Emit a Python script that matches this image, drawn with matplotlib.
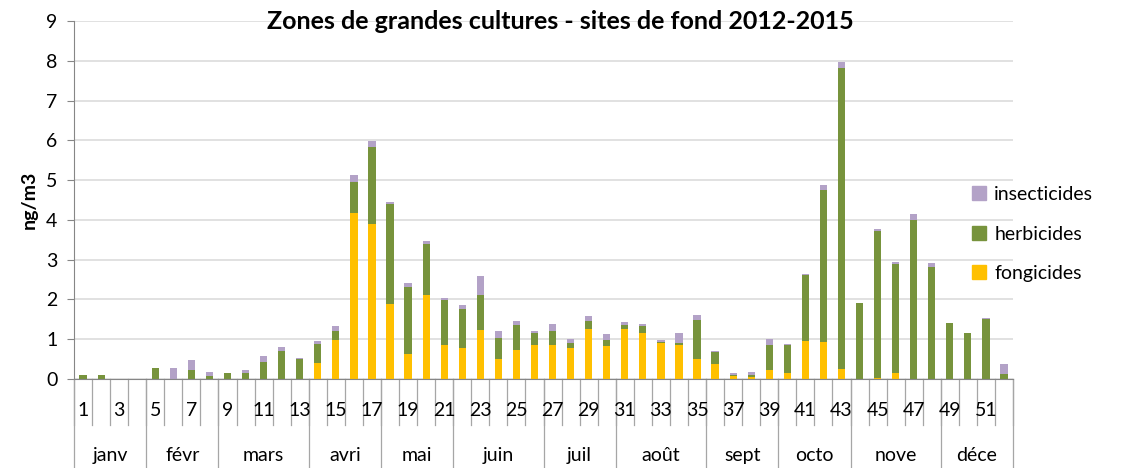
import numpy as np
import matplotlib
matplotlib.use('Agg')
import matplotlib.pyplot as plt
from matplotlib.patches import Patch

plt.rcParams['font.family'] = ['Lato', 'DejaVu Sans']

semaines = list(range(1, 53))

# valeurs (ng/m3), par semaine
fongicides = [0, 0, 0, 0, 0, 0, 0, 0, 0, 0, 0, 0, 0,
              0.40, 0.97, 4.17, 3.89, 1.88, 0.63, 2.11, 0.85, 0.77, 1.23,
              0.49, 0.72, 0.86, 0.86, 0.78, 1.25, 0.83, 1.25, 1.16, 0.89,
              0.86, 0.49, 0.38, 0.07, 0.04, 0.23, 0.14, 0.96, 0.93, 0.25,
              0, 0.03, 0.14, 0, 0, 0, 0, 0, 0]
herbicides = [0.09, 0.09, 0, 0, 0.26, 0, 0.21, 0.07, 0.15, 0.15, 0.43, 0.71, 0.49,
              0.48, 0.23, 0.79, 1.95, 2.52, 1.67, 1.27, 1.12, 0.99, 0.87,
              0.53, 0.64, 0.28, 0.34, 0.13, 0.20, 0.14, 0.11, 0.17, 0.04,
              0.05, 0.98, 0.28, 0.02, 0.06, 0.62, 0.72, 1.64, 3.83, 7.58,
              1.90, 3.69, 2.76, 4.00, 2.81, 1.41, 1.16, 1.50, 0.12]
insecticides = [0, 0, 0, 0, 0, 0.26, 0.25, 0.10, 0, 0.08, 0.14, 0.08, 0.03,
                0.06, 0.12, 0.17, 0.15, 0.06, 0.11, 0.08, 0.05, 0.09, 0.49,
                0.17, 0.09, 0.06, 0.17, 0.09, 0.12, 0.15, 0.06, 0.06, 0.04,
                0.25, 0.13, 0.03, 0.06, 0.07, 0.14, 0.02, 0.04, 0.12, 0.14,
                0, 0.05, 0.03, 0.16, 0.11, 0, 0, 0.04, 0.25]

mois = ['janv', 'févr', 'mars', 'avri', 'mai', 'juin', 'juil', 'août',
        'sept', 'octo', 'nove', 'déce']
semaines_par_mois = [4, 4, 5, 4, 4, 5, 4, 5, 4, 4, 5, 4]

c_fong = '#FFC000'
c_herb = '#77933C'
c_ins = '#B3A2C7'
gris = '#868686'

fong = np.array(fongicides)
herb = np.array(herbicides)
ins = np.array(insecticides)

fig = plt.figure(figsize=(11.32, 4.68), dpi=100)
ax = fig.add_axes([0.0654, 0.1908, 0.8295, 0.7637])

ax.bar(semaines, fong, width=0.4, color=c_fong, zorder=3)
ax.bar(semaines, herb, width=0.4, bottom=fong, color=c_herb, zorder=3)
ax.bar(semaines, ins, width=0.4, bottom=fong + herb, color=c_ins, zorder=3)

ax.set_xlim(0.5, 52.5)
ax.set_ylim(0, 9)
ax.set_yticks(range(0, 10))
ax.yaxis.grid(True, color='#D9D9D9', linewidth=1.1, zorder=0)
ax.set_axisbelow(True)
ax.tick_params(axis='y', length=5, color=gris, labelsize=14, pad=7)
ax.set_xticks([])
for s in ['top', 'right']:
    ax.spines[s].set_visible(False)
ax.spines['left'].set_color(gris)
ax.spines['bottom'].set_color(gris)
ax.spines['bottom'].set_zorder(4)

trans = ax.get_xaxis_transform()

# séparateurs de semaines
for b in np.arange(0.5, 53, 1):
    ax.plot([b, b], [0, -0.13], transform=trans, color='#A6A6A6',
            linewidth=0.9, clip_on=False)
for s in semaines:
    if s % 2 == 1:
        ax.text(s, -0.088, str(s), transform=trans, ha='center', va='center',
                fontsize=14)

# mois
debut = 0.5
for m, n in zip(mois, semaines_par_mois):
    ax.plot([debut, debut], [0, -0.26], transform=trans, color='#A6A6A6',
            linewidth=0.9, clip_on=False)
    ax.text(debut + n / 2, -0.214, m, transform=trans, ha='center',
            va='center', fontsize=14)
    debut += n
ax.plot([debut, debut], [0, -0.26], transform=trans, color='#A6A6A6',
        linewidth=0.9, clip_on=False)

ax.set_ylabel('ng/m3', fontsize=14, fontweight='bold', labelpad=6)

fig.text(0.495, 0.953, 'Zones de grandes cultures - sites de fond 2012-2015',
         ha='center', va='center', fontsize=18, fontweight='bold')

handles = [Patch(color=c_ins), Patch(color=c_herb), Patch(color=c_fong)]
fig.legend(handles, ['insecticides', 'herbicides', 'fongicides'],
           loc='center left', bbox_to_anchor=(0.843, 0.50), frameon=False,
           fontsize=14, handlelength=0.75, handleheight=0.75,
           handletextpad=0.4, labelspacing=1.15)

fig.savefig('out.png', dpi=100)
